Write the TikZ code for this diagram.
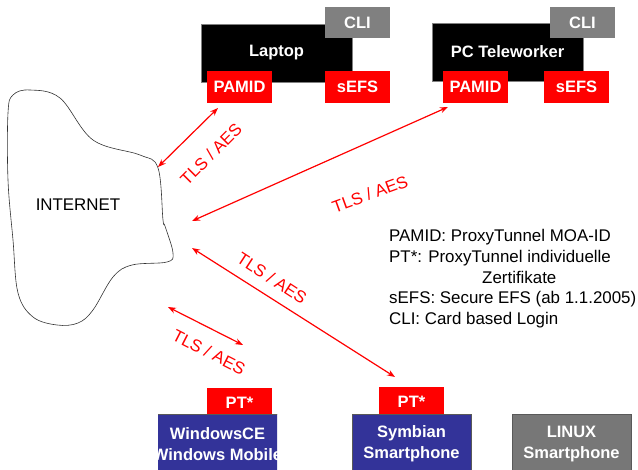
\documentclass[tikz,border=0pt]{standalone}
\usepackage{fontspec}
\setmainfont{Liberation Sans}
\usetikzlibrary{positioning,arrows.meta}

\definecolor{phoneblue}{HTML}{333399}
\definecolor{cligray}{HTML}{808080}
\definecolor{linuxgray}{HTML}{777777}

\newcommand{\boxfont}{\fontsize{16.5}{21}\selectfont\bfseries}
\newcommand{\plainfont}{\fontsize{16.9}{20.6}\selectfont}

\begin{document}
\begin{tikzpicture}[x=1pt, y=-1pt,
			devbox/.style={rectangle, fill=black, draw=gray, inner sep=0pt, minimum width=151pt, minimum height=58pt, text=white, font=\boxfont},
			tagbox/.style={rectangle, fill=red, inner sep=0pt, minimum width=65pt, minimum height=32pt, text=white, font=\boxfont},
			clibox/.style={tagbox, fill=cligray, minimum height=31pt},
			ptbox/.style={tagbox, minimum height=28pt},
			phonebox/.style={rectangle, fill=phoneblue, draw=black!65, inner sep=0pt, minimum width=119pt, minimum height=60pt, text=white, align=center, font=\boxfont},
			link/.style={red, line width=1.2pt, {Stealth[length=8pt,width=6pt]}-{Stealth[length=8pt,width=6pt]}},
			linklabel/.style={red, inner sep=0pt, font=\plainfont},
		]
		\useasboundingbox (0,0) rectangle (638,470);

			%Laptop
			\node[devbox]	(laptop)	at (276.5,53)	{Laptop};
			\node[clibox]	(cli1)		at (357.5,22.5)	{CLI};
			\node[tagbox]	(pamid1)	at (239.5,87)	{PAMID};
			\node[tagbox]	(sefs1)		at (357.5,87)	{sEFS};

			%PC Teleworker
			\node[devbox]	(pc)		at (507.5,52)	{PC Teleworker};
			\node[clibox]	(cli2)		at (582.5,22.5)	{CLI};
			\node[tagbox]	(pamid2)	at (475.5,87)	{PAMID};
			\node[tagbox]	(sefs2)		at (576.5,87)	{sEFS};

			%Internet
			\draw[black!80, line width=0.6pt] plot[smooth cycle, tension=0.6] coordinates {
				(13,95) (30,90) (60,98) (93,140) (140,155) (158,168) (163,220) (165,226)
				(173,253) (167,262) (132,265) (113,277) (93,310) (78,323) (57,325)
				(33,317) (18,293) (13,240) (8,180) (8,113)};
			\node[font=\plainfont]	(inet)	at (78,205)	{INTERNET};

			%Phones
			\node[ptbox]	(pt1)	at (239.5,402.5)	{PT*};
			\begin{scope}
				\clip (158,414) rectangle (277,480);
				\node[phonebox]	(wince)	at (217.5,444)	{WindowsCE\\Windows Mobile};
			\end{scope}
			\node[ptbox]	(pt2)	at (411.5,401.5)	{PT*};
			\node[phonebox]	(symbian)	at (411.5,444)	{Symbian\\Smartphone};
			\node[phonebox, fill=linuxgray]	(linux)	at (571.5,444)	{LINUX\\Smartphone};

			%Legend
			\node[font=\plainfont, align=left, anchor=north west, inner sep=0pt]	(legend)	at (389,229.5)
				{PAMID: ProxyTunnel MOA-ID\\PT*: ProxyTunnel individuelle\\\hspace*{93pt}Zertifikate\\sEFS: Secure EFS (ab 1.1.2005)\\CLI: Card based Login};

			%Lines
			\coordinate (i1) at (158,167);	\coordinate (d1) at (218,108);
			\coordinate (i2) at (192,221);	\coordinate (d2) at (448,107);
			\coordinate (i3) at (192,248);	\coordinate (d3) at (395,377);
			\coordinate (i4) at (168,307);	\coordinate (d4) at (243,345);
			\draw[link]	(i1) -- (d1);
			\draw[link]	(i2) -- (d2);
			\draw[link]	(i3) -- (d3);
			\draw[link]	(i4) -- (d4);

			\node[linklabel, rotate=45]		(tls1)	at (211,154)	{TLS / AES};
			\node[linklabel, rotate=20]		(tls2)	at (370,194)	{TLS / AES};
			\node[linklabel, rotate=-33]	(tls3)	at (272,278)	{TLS / AES};
			\node[linklabel, rotate=-27]	(tls4)	at (209,352)	{TLS / AES};

		\end{tikzpicture}
\end{document}
